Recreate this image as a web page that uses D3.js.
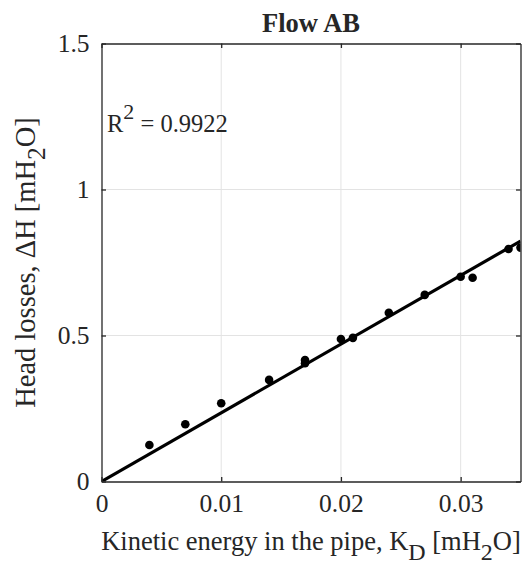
<!DOCTYPE html>
<html>
<head>
<meta charset="utf-8">
<script src="https://cdn.jsdelivr.net/npm/d3@7"></script>
<style>
  html, body { margin: 0; padding: 0; background: #fff; }
  svg { display: block; }
  text { font-family: "Liberation Serif", "Times New Roman", serif; fill: #262626; }
</style>
</head>
<body>
<svg id="chart" width="522" height="565"></svg>
<script>
// Measured kinetic energy K_D [mH2O] and head losses ΔH [mH2O] for flow AB
const kineticEnergy = [0.004, 0.007, 0.010, 0.014, 0.017, 0.017, 0.020, 0.021, 0.024, 0.027, 0.030, 0.031, 0.034, 0.035];
const headLosses    = [0.125, 0.196, 0.268, 0.348, 0.405, 0.416, 0.488, 0.492, 0.578, 0.639, 0.701, 0.698, 0.796, 0.801];
const xTicks = [0, 0.01, 0.02, 0.03];
const yTicks = [0, 0.5, 1, 1.5];
const xTickLabels = ["0", "0.01", "0.02", "0.03"];
const yTickLabels = ["0", "0.5", "1", "1.5"];
const titleText = "Flow AB";
const r2Text = "0.9922";

const points = kineticEnergy.map((k, i) => ({ k, h: headLosses[i] }));

// Least-squares line through the origin
const slope = d3.sum(points, p => p.k * p.h) / d3.sum(points, p => p.k * p.k);

const svg = d3.select("#chart");
const margin = { left: 101.5, right: 1.5, top: 43.5, bottom: 83.5 };
const W = 522, H = 565;
const x = d3.scaleLinear().domain([0, 0.035]).range([margin.left, W - margin.right]);
const y = d3.scaleLinear().domain([0, 1.5]).range([H - margin.bottom, margin.top]);

const axisColor = "#262626";
const gridColor = "#e3e3e3";

// Grid lines
svg.append("g")
  .selectAll("line")
  .data(xTicks.filter(t => t > 0))
  .join("line")
  .attr("x1", d => x(d)).attr("x2", d => x(d))
  .attr("y1", y(1.5)).attr("y2", y(0))
  .attr("stroke", gridColor).attr("stroke-width", 1);
svg.append("g")
  .selectAll("line")
  .data(yTicks.filter(t => t > 0 && t < 1.5))
  .join("line")
  .attr("y1", d => y(d)).attr("y2", d => y(d))
  .attr("x1", x(0)).attr("x2", x(0.035))
  .attr("stroke", gridColor).attr("stroke-width", 1);

// Clip region for data marks
svg.append("clipPath").attr("id", "plotClip")
  .append("rect")
  .attr("x", x(0)).attr("y", y(1.5))
  .attr("width", x(0.035) - x(0)).attr("height", y(0) - y(1.5));

const plot = svg.append("g").attr("clip-path", "url(#plotClip)");

// Fitted line
plot.append("path")
  .datum([0, 0.035])
  .attr("d", d3.line().x(d => x(d)).y(d => y(slope * d)))
  .attr("fill", "none")
  .attr("stroke", "#000")
  .attr("stroke-width", 3.2);

// Measured points
plot.append("g")
  .selectAll("circle")
  .data(points)
  .join("circle")
  .attr("cx", d => x(d.k))
  .attr("cy", d => y(d.h))
  .attr("r", 4.3)
  .attr("fill", "#000");

// Axes (box with inward ticks on all sides)
const tickLen = 4.5;
const tickFont = 25.5;
const labelFont = 26.5;
const subFont = 24;
const xAxisBottom = d3.axisBottom(x).tickValues(xTicks).tickSizeInner(-tickLen).tickSizeOuter(0)
  .tickFormat((d, i) => xTickLabels[i]).tickPadding(12);
const xAxisTop = d3.axisTop(x).tickValues(xTicks).tickSizeInner(-tickLen).tickSizeOuter(0).tickFormat("");
const yAxisLeft = d3.axisLeft(y).tickValues(yTicks).tickSizeInner(-tickLen).tickSizeOuter(0)
  .tickFormat((d, i) => yTickLabels[i]).tickPadding(12);
const yAxisRight = d3.axisRight(y).tickValues(yTicks).tickSizeInner(-tickLen).tickSizeOuter(0).tickFormat("");

function styleAxis(g) {
  g.select(".domain").attr("stroke", axisColor).attr("stroke-width", 1.3);
  g.selectAll(".tick line").attr("stroke", axisColor).attr("stroke-width", 1.3);
  g.selectAll(".tick text")
    .attr("fill", axisColor)
    .style("font-family", '"Liberation Serif", "Times New Roman", serif')
    .style("font-size", tickFont + "px");
}

svg.append("g").attr("transform", `translate(0,${y(0)})`).call(xAxisBottom).call(styleAxis);
svg.append("g").attr("transform", `translate(0,${y(1.5)})`).call(xAxisTop).call(styleAxis);
svg.append("g").attr("transform", `translate(${x(0)},0)`).call(yAxisLeft).call(styleAxis);
svg.append("g").attr("transform", `translate(${x(0.035)},0)`).call(yAxisRight).call(styleAxis);

// Title
svg.append("text")
  .attr("x", (x(0) + x(0.035)) / 2)
  .attr("y", 32)
  .attr("text-anchor", "middle")
  .style("font-size", "26.5px")
  .style("font-weight", "bold")
  .attr("fill", "#000")
  .text(titleText);

// X axis label with subscripts
const xl = svg.append("text")
  .attr("x", (x(0) + x(0.035)) / 2)
  .attr("y", 550)
  .attr("text-anchor", "middle")
  .style("font-size", labelFont + "px");
xl.append("tspan").text("Kinetic energy in the pipe, K");
xl.append("tspan").attr("dy", 10).style("font-size", subFont + "px").text("D");
xl.append("tspan").attr("dy", -10).text(" [mH");
xl.append("tspan").attr("dy", 10).style("font-size", subFont + "px").text("2");
xl.append("tspan").attr("dy", -10).text("O]");

// Y axis label with subscript
const yl = svg.append("text")
  .attr("transform", `translate(35,${(y(0) + y(1.5)) / 2}) rotate(-90)`)
  .attr("text-anchor", "middle")
  .style("font-size", "28.5px");
yl.append("tspan").text("Head losses, ΔH [mH");
yl.append("tspan").attr("dy", 10).style("font-size", "25.5px").text("2");
yl.append("tspan").attr("dy", -10).text("O]");

// Coefficient of determination
const rt = svg.append("text")
  .attr("x", 107)
  .attr("y", 132)
  .style("font-size", "24.5px");
rt.append("tspan").text("R");
rt.append("tspan").attr("dy", -13).style("font-size", "22px").text("2");
rt.append("tspan").attr("dy", 13).text(" = " + r2Text);
</script>
</body>
</html>
